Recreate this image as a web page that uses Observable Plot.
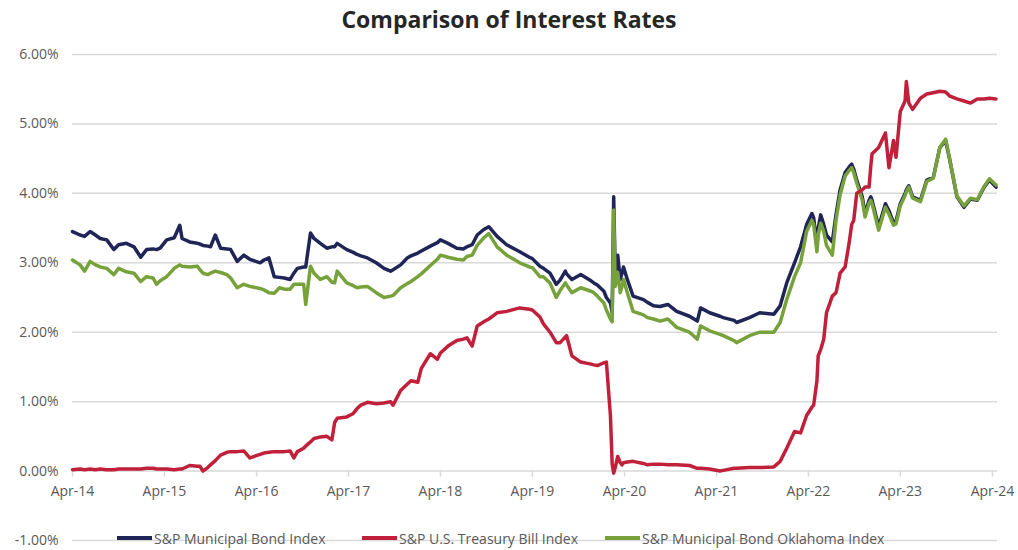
<!DOCTYPE html>
<html><head><meta charset="utf-8">
<script src="https://cdn.jsdelivr.net/npm/d3@7"></script>
<script src="https://cdn.jsdelivr.net/npm/@observablehq/plot@0.6"></script>
<style>
body{margin:0;background:#fff;font-family:"Open Sans",sans-serif;}
#wrap{position:relative;width:1018px;height:550px;}
#title{height:38px;line-height:38px;text-align:center;font-weight:700;font-size:23px;color:#262626;}
#chart svg{display:block;}
#legend{position:absolute;top:529px;left:0;width:1018px;height:18px;}
.item{position:absolute;top:0;height:18px;display:flex;align-items:center;font-size:14px;color:#595959;white-space:nowrap;}
.sw{width:35px;height:4px;margin-right:2px;}
</style></head>
<body><div id="wrap"><div id="title">Comparison of Interest Rates</div><div id="chart"></div><div id="legend"></div></div>
<script>
const dates = [
"2014-04-01","2014-05-01","2014-05-19","2014-06-10","2014-07-01","2014-07-20","2014-08-15","2014-09-12","2014-10-01","2014-11-01","2014-12-01","2014-12-28",
"2015-01-20","2015-02-15","2015-03-01","2015-03-15","2015-04-10","2015-05-10","2015-06-01","2015-06-10","2015-07-10","2015-08-10","2015-08-20","2015-09-01","2015-09-20","2015-10-01","2015-10-20","2015-11-10","2015-12-05","2015-12-20",
"2016-01-15","2016-02-10","2016-03-05","2016-04-15","2016-04-30","2016-05-20","2016-06-10","2016-07-01","2016-07-20","2016-08-12","2016-08-27","2016-09-10","2016-10-05","2016-10-13","2016-11-01","2016-11-15","2016-12-10",
"2017-01-05","2017-01-25","2017-02-05","2017-02-15","2017-03-25","2017-04-20","2017-05-05","2017-05-20","2017-06-15","2017-07-20","2017-08-20","2017-09-15","2017-09-25","2017-10-25","2017-11-20","2017-12-05",
"2018-01-01","2018-01-15","2018-02-20","2018-03-20","2018-04-01","2018-05-01","2018-06-05","2018-07-01","2018-07-15","2018-08-05","2018-08-25","2018-09-20","2018-10-10","2018-11-12","2018-12-20",
"2019-02-10","2019-03-20","2019-04-01","2019-05-01","2019-05-15","2019-06-10","2019-07-05","2019-07-20","2019-08-10","2019-08-15","2019-09-05","2019-10-10","2019-11-20","2019-12-01","2019-12-15",
"2020-01-10","2020-01-20","2020-02-05","2020-02-12","2020-02-18","2020-02-24","2020-03-05","2020-03-15","2020-03-22","2020-03-28","2020-04-12","2020-05-05","2020-06-15","2020-07-01","2020-07-25","2020-08-20","2020-09-20","2020-10-25","2020-12-15",
"2021-01-15","2021-01-28","2021-03-05","2021-04-15","2021-04-28","2021-06-10","2021-06-20","2021-08-10","2021-09-20","2021-11-15","2021-12-10",
"2022-01-05","2022-02-05","2022-03-01","2022-03-25","2022-04-15","2022-04-22","2022-05-05","2022-05-10","2022-05-20","2022-06-01","2022-06-12","2022-07-05","2022-07-20","2022-08-05","2022-08-25","2022-09-10","2022-09-20","2022-09-28","2022-10-10","2022-11-01","2022-11-12","2022-11-28","2022-12-05","2022-12-10",
"2023-01-05","2023-02-01","2023-02-15","2023-03-05","2023-03-15","2023-04-01","2023-04-20","2023-04-25","2023-05-05","2023-05-20","2023-06-20","2023-07-15","2023-08-10","2023-09-05","2023-09-28","2023-10-15","2023-11-12","2023-12-10",
"2024-01-05","2024-02-01","2024-02-28","2024-03-20","2024-04-15"
];
const muni = [
3.45,3.40,3.38,3.45,3.40,3.35,3.33,3.19,3.26,3.28,3.23,3.08,
3.19,3.20,3.19,3.21,3.33,3.36,3.54,3.35,3.30,3.28,3.27,3.25,3.24,3.23,3.40,3.21,3.20,3.19,
3.02,3.11,3.05,3.00,3.04,3.07,2.80,2.79,2.78,2.76,2.85,2.92,2.94,2.94,3.43,3.35,3.28,
3.21,3.23,3.23,3.28,3.19,3.15,3.12,3.10,3.07,3.00,2.92,2.88,2.90,2.97,3.07,3.10,
3.14,3.17,3.24,3.29,3.33,3.28,3.21,3.20,3.23,3.26,3.40,3.48,3.52,3.38,3.26,
3.16,3.08,3.06,2.95,2.92,2.85,2.69,2.75,2.88,2.84,2.76,2.83,2.74,2.71,2.68,
2.59,2.50,2.42,2.28,3.95,2.86,3.11,2.76,2.85,2.94,2.76,2.52,2.47,2.43,2.38,2.37,2.40,2.30,2.23,
2.16,2.35,2.28,2.23,2.21,2.17,2.14,2.21,2.28,2.26,2.38,
2.71,3.00,3.23,3.55,3.71,3.65,3.23,3.50,3.69,3.55,3.40,3.30,3.70,4.05,4.30,4.38,4.42,4.35,4.19,3.95,3.71,3.90,3.95,3.90,
3.52,3.85,3.75,3.58,3.60,3.85,4.00,4.05,4.11,3.95,3.90,4.19,4.23,4.66,4.76,4.47,3.95,3.80,
3.92,3.90,4.09,4.19,4.09
];
const tbill = [
0.02,0.03,0.02,0.03,0.02,0.03,0.02,0.02,0.03,0.03,0.03,0.03,
0.04,0.04,0.03,0.03,0.03,0.02,0.03,0.03,0.08,0.07,0.07,0.00,0.05,0.09,0.15,0.23,0.27,0.28,
0.28,0.29,0.19,0.24,0.26,0.27,0.28,0.28,0.28,0.29,0.19,0.28,0.33,0.36,0.42,0.47,0.49,
0.50,0.45,0.70,0.76,0.78,0.83,0.90,0.95,0.99,0.97,0.98,1.00,0.95,1.16,1.25,1.30,
1.28,1.48,1.69,1.61,1.70,1.80,1.88,1.90,1.92,1.80,2.09,2.15,2.19,2.28,2.30,
2.35,2.33,2.32,2.22,2.12,2.00,1.85,1.85,1.93,1.95,1.66,1.57,1.54,1.53,1.52,
1.56,1.57,0.80,0.10,-0.03,0.05,0.21,0.12,0.09,0.12,0.13,0.14,0.11,0.09,0.10,0.10,0.09,0.09,0.08,
0.04,0.04,0.03,0.00,0.01,0.04,0.04,0.05,0.05,0.06,0.14,
0.33,0.57,0.55,0.80,0.92,0.95,1.30,1.66,1.75,1.90,2.28,2.52,2.57,2.85,2.94,3.29,3.55,3.61,4.00,4.05,4.09,4.09,4.40,4.57,
4.66,4.87,4.37,4.76,4.52,5.18,5.33,5.61,5.30,5.21,5.37,5.43,5.45,5.47,5.46,5.40,5.36,5.33,
5.30,5.36,5.36,5.37,5.36
];
const okla = [
3.04,2.97,2.88,3.02,2.97,2.94,2.92,2.83,2.92,2.87,2.85,2.73,
2.80,2.78,2.69,2.74,2.80,2.92,2.97,2.95,2.94,2.95,2.90,2.85,2.83,2.85,2.88,2.86,2.83,2.78,
2.64,2.69,2.66,2.63,2.61,2.57,2.56,2.64,2.62,2.62,2.69,2.69,2.69,2.40,2.95,2.85,2.76,
2.80,2.72,2.71,2.88,2.71,2.67,2.64,2.65,2.66,2.57,2.50,2.52,2.53,2.64,2.70,2.73,
2.80,2.84,2.96,3.05,3.11,3.08,3.05,3.04,3.09,3.11,3.25,3.36,3.42,3.23,3.11,
3.00,2.94,2.93,2.80,2.80,2.71,2.50,2.60,2.71,2.68,2.57,2.64,2.59,2.57,2.52,
2.42,2.32,2.19,2.15,3.76,2.66,2.86,2.57,2.66,2.76,2.57,2.30,2.25,2.21,2.19,2.16,2.19,2.07,2.00,
1.90,2.09,2.02,1.97,1.95,1.88,1.85,1.95,2.00,2.00,2.14,
2.47,2.80,3.00,3.45,3.61,3.55,3.16,3.40,3.57,3.45,3.25,3.11,3.62,3.98,4.25,4.33,4.37,4.30,4.15,3.90,3.66,3.86,3.90,3.85,
3.47,3.80,3.70,3.54,3.56,3.82,3.97,4.02,4.09,3.93,3.88,4.17,4.22,4.66,4.78,4.48,3.96,3.82,
3.93,3.91,4.10,4.21,4.12
];
const seriesNames = ["S&P Municipal Bond Index","S&P U.S. Treasury Bill Index","S&P Municipal Bond Oklahoma Index"];
const seriesColors = ["#1f2556","#c0203a","#77a23b"];
const yTicks = [-1,0,1,2,3,4,5,6];
const xTickDates = ["2014-04-01","2015-04-01","2016-04-01","2017-04-01","2018-04-01","2019-04-01","2020-04-01","2021-04-01","2022-04-01","2023-04-01","2024-04-01"];

const rows = dates.map((d,i)=>({date:new Date(d), muni:muni[i], tbill:tbill[i], okla:okla[i]}));
const xTicks = xTickDates.map(d=>new Date(d));
const fmtX = d3.utcFormat("%b-%y");
const grid = "#d9d9d9";

const chart = Plot.plot({
  width:1018, height:512,
  marginLeft:72, marginRight:21, marginTop:16, marginBottom:10,
  x:{type:"utc", domain:[new Date("2014-04-01"), new Date("2024-04-21")], axis:null},
  y:{domain:[-1,6], axis:null},
  style:{fontFamily:"'Open Sans', sans-serif", fontSize:"14px", color:"#595959", background:"white"},
  marks:[
    Plot.ruleY(yTicks, {stroke:grid, strokeWidth:1.5}),
    Plot.ruleX(xTicks, {x:d=>d, y1:0, y2:0, insetBottom:-6, stroke:grid, strokeWidth:1.5}),
    Plot.axisY(yTicks, {tickSize:0, tickPadding:14, tickFormat:d=>d.toFixed(2)+"%", label:null, fontSize:14}),
    Plot.text(xTicks, {x:d=>d, y:0, text:d=>fmtX(d), dy:20, fontSize:14, fill:"#595959"}),
    Plot.line(rows, {x:"date", y:"muni", stroke:seriesColors[0], strokeWidth:3.5, strokeLinejoin:"round"}),
    Plot.line(rows, {x:"date", y:"okla", stroke:seriesColors[2], strokeWidth:3.5, strokeLinejoin:"round"}),
    Plot.line(rows, {x:"date", y:"tbill", stroke:seriesColors[1], strokeWidth:3.5, strokeLinejoin:"round"})
  ]
});
document.getElementById("chart").appendChild(chart);

const legendLefts = [117, 362, 605];
const legend = document.getElementById("legend");
seriesNames.forEach((name,i)=>{
  const it = document.createElement("div");
  it.className = "item";
  it.style.left = legendLefts[i] + "px";
  const sw = document.createElement("span");
  sw.className = "sw";
  sw.style.background = seriesColors[i];
  const tx = document.createElement("span");
  tx.textContent = name;
  it.appendChild(sw); it.appendChild(tx);
  legend.appendChild(it);
});
</script>
</body></html>
